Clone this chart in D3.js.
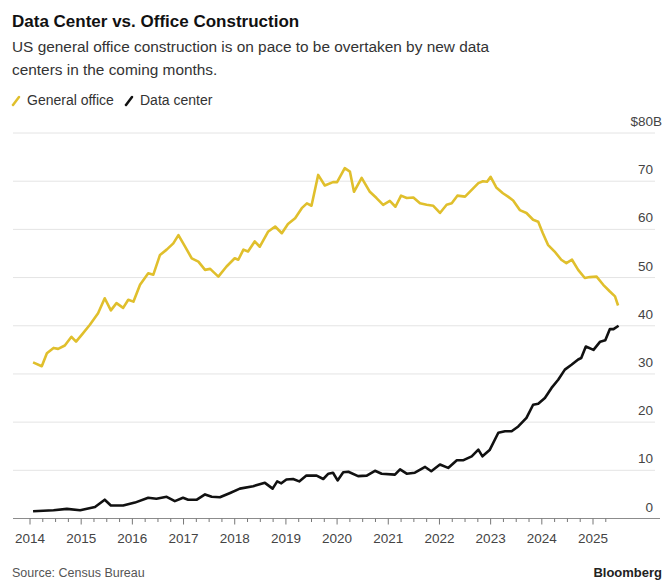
<!DOCTYPE html>
<html>
<head>
<meta charset="utf-8">
<script src="https://cdn.jsdelivr.net/npm/d3@7"></script>
<style>
  body { margin: 0; background: #fff; }
  text { font-family: "Liberation Sans", Arial, sans-serif; }
</style>
</head>
<body>
<div id="chart"></div>
<script>
// values (decimal year, $B)
var officeYears = [2014.06, 2014.23, 2014.33, 2014.46, 2014.55, 2014.68, 2014.81, 2014.9, 2015.01, 2015.17,
  2015.33, 2015.46, 2015.58, 2015.69, 2015.82, 2015.92, 2016.02, 2016.15, 2016.31, 2016.41,
  2016.54, 2016.67, 2016.8, 2016.9, 2017.03, 2017.16, 2017.29, 2017.42, 2017.52, 2017.68,
  2017.84, 2018.0, 2018.07, 2018.17, 2018.26, 2018.39, 2018.49, 2018.65, 2018.79, 2018.92,
  2019.04, 2019.18, 2019.31, 2019.41, 2019.5, 2019.63, 2019.76, 2019.92, 2020.0, 2020.15,
  2020.25, 2020.33, 2020.48, 2020.64, 2020.77, 2020.9, 2021.03, 2021.14, 2021.25, 2021.36,
  2021.49, 2021.62, 2021.75, 2021.88, 2022.01, 2022.14, 2022.24, 2022.35, 2022.5, 2022.63,
  2022.76, 2022.85, 2022.93, 2023.0, 2023.11, 2023.24, 2023.34, 2023.44, 2023.57, 2023.7,
  2023.83, 2023.93, 2024.02, 2024.12, 2024.25, 2024.38, 2024.48, 2024.59, 2024.71, 2024.84,
  2024.94, 2025.07, 2025.2, 2025.33, 2025.43, 2025.49];
var officeValues = [32.4, 31.6, 34.3, 35.4, 35.2, 35.9, 37.7, 36.7, 38.1, 40.2,
  42.6, 45.7, 43.2, 44.7, 43.7, 45.4, 45.0, 48.5, 50.9, 50.6,
  54.7, 55.8, 57.1, 58.8, 56.4, 54.0, 53.3, 51.6, 51.8, 50.2,
  52.3, 54.0, 53.7, 55.8, 55.4, 57.5, 56.4, 59.5, 60.6, 59.2,
  61.1, 62.3, 64.4, 65.4, 64.9, 71.3, 69.1, 69.8, 69.8, 72.7,
  72.0, 67.8, 70.7, 67.8, 66.5, 65.1, 65.9, 64.7, 67.0, 66.5,
  66.6, 65.4, 65.1, 64.9, 63.4, 65.1, 65.4, 67.0, 66.8, 68.2,
  69.6, 70.0, 69.9, 70.9, 68.7, 67.5, 66.8, 66.0, 64.0, 63.4,
  62.0, 61.6, 59.2, 56.8, 55.4, 53.7, 53.0, 53.7, 51.6, 49.9,
  50.1, 50.2, 48.5, 47.1, 46.1, 44.2];

var dataCenterYears = [2014.06, 2014.46, 2014.72, 2014.98, 2015.27, 2015.46, 2015.58, 2015.82, 2016.05, 2016.31,
  2016.47, 2016.67, 2016.83, 2016.99, 2017.09, 2017.26, 2017.42, 2017.55, 2017.71, 2017.91,
  2018.1, 2018.36, 2018.59, 2018.74, 2018.83, 2018.91, 2019.01, 2019.14, 2019.26, 2019.4,
  2019.6, 2019.73, 2019.83, 2019.92, 2020.01, 2020.12, 2020.22, 2020.41, 2020.58, 2020.74,
  2020.87, 2021.13, 2021.23, 2021.36, 2021.52, 2021.72, 2021.84, 2022.01, 2022.17, 2022.34,
  2022.47, 2022.63, 2022.76, 2022.84, 2022.98, 2023.15, 2023.28, 2023.41, 2023.54, 2023.7,
  2023.83, 2023.93, 2024.06, 2024.19, 2024.32, 2024.45, 2024.58, 2024.71, 2024.77, 2024.86,
  2025.01, 2025.14, 2025.24, 2025.33, 2025.4, 2025.5];
var dataCenterValues = [1.5, 1.7, 2.0, 1.7, 2.4, 3.9, 2.7, 2.7, 3.3, 4.3,
  4.1, 4.5, 3.6, 4.3, 3.9, 3.9, 5.0, 4.5, 4.4, 5.3,
  6.2, 6.7, 7.4, 6.2, 7.7, 7.3, 8.1, 8.2, 7.7, 8.9,
  8.9, 8.2, 9.3, 9.5, 7.9, 9.6, 9.7, 8.8, 8.9, 9.9,
  9.3, 9.1, 10.2, 9.3, 9.5, 10.7, 9.8, 11.2, 10.5, 12.1,
  12.1, 12.9, 14.3, 12.9, 14.2, 17.8, 18.1, 18.1, 19.1, 20.9,
  23.6, 23.8, 25.0, 27.1, 28.8, 30.9, 31.9, 33.0, 33.3, 35.7,
  35.0, 36.7, 37.0, 39.3, 39.3, 40.0];

var yTicks = [0, 10, 20, 30, 40, 50, 60, 70, 80];
var yearTicks = d3.range(2014, 2026);
var quarterTicks = d3.range(2014, 2025.3, 0.25);

var W = 666, H = 582;
var officeColor = "#e0bf2c", dcColor = "#111111";

var svg = d3.select("#chart")
  .append("svg")
    .attr("width", W)
    .attr("height", H);

// scales
var x = d3.scaleLinear().domain([2014, 2025]).range([30, 593]);
var y = d3.scaleLinear().domain([0, 80]).range([518.5, 133]);

// title + subtitle
svg.append("text")
    .attr("x", 12).attr("y", 27)
    .style("font-size", "17px").style("font-weight", "bold").attr("fill", "#111")
    .text("Data Center vs. Office Construction");
var sub = ["US general office construction is on pace to be overtaken by new data",
           "centers in the coming months."];
sub.forEach(function(s, i) {
  svg.append("text")
      .attr("x", 12).attr("y", 52 + i * 23)
      .style("font-size", "15.4px").attr("fill", "#333")
      .text(s);
});

// legend
var legend = [{name: "General office", color: officeColor, x: 12},
              {name: "Data center", color: dcColor, x: 125}];
legend.forEach(function(l) {
  svg.append("line")
      .attr("x1", l.x + 1).attr("y1", 105).attr("x2", l.x + 7).attr("y2", 97)
      .attr("stroke", l.color).attr("stroke-width", 2.5).attr("stroke-linecap", "round");
  svg.append("text")
      .attr("x", l.x + 15).attr("y", 105)
      .style("font-size", "14px").attr("fill", "#333")
      .text(l.name);
});

// gridlines
svg.append("g")
  .selectAll("line")
  .data(yTicks.slice(1))
  .enter().append("line")
    .attr("x1", 13).attr("x2", 655)
    .attr("y1", function(d) { return y(d); })
    .attr("y2", function(d) { return y(d); })
    .attr("stroke", "#e4e4e4").attr("stroke-width", 1);

// y labels, sitting above their gridline
svg.append("g")
  .selectAll("text")
  .data(yTicks)
  .enter().append("text")
    .attr("x", function(d) { return d == 80 ? 662 : 653; })
    .attr("y", function(d) { return y(d) - 7; })
    .attr("text-anchor", "end")
    .style("font-size", "13.5px").attr("fill", "#444")
    .text(function(d) { return d == 80 ? "$80B" : d; });

// x axis: baseline + quarterly ticks
svg.append("line")
    .attr("x1", 13).attr("x2", 660)
    .attr("y1", y(0)).attr("y2", y(0))
    .attr("stroke", "#8c8c8c").attr("stroke-width", 1);
svg.append("g")
  .selectAll("line")
  .data(quarterTicks)
  .enter().append("line")
    .attr("x1", function(d) { return x(d); })
    .attr("x2", function(d) { return x(d); })
    .attr("y1", y(0))
    .attr("y2", function(d) { return y(0) + (d % 1 == 0 ? 6 : 3.5); })
    .attr("stroke", "#777").attr("stroke-width", 1);
svg.append("g")
  .selectAll("text")
  .data(yearTicks)
  .enter().append("text")
    .attr("x", function(d) { return x(d); })
    .attr("y", 543)
    .attr("text-anchor", "middle")
    .style("font-size", "13.5px").attr("fill", "#444")
    .text(function(d) { return d; });

// lines
var line = d3.line()
  .x(function(d) { return x(d[0]); })
  .y(function(d) { return y(d[1]); });

svg.append("path")
    .datum(d3.zip(officeYears, officeValues))
    .attr("d", line)
    .attr("fill", "none")
    .attr("stroke", officeColor)
    .attr("stroke-width", 2.6)
    .attr("stroke-linejoin", "round");

svg.append("path")
    .datum(d3.zip(dataCenterYears, dataCenterValues))
    .attr("d", line)
    .attr("fill", "none")
    .attr("stroke", dcColor)
    .attr("stroke-width", 2.6)
    .attr("stroke-linejoin", "round");

// footer
svg.append("text")
    .attr("x", 12).attr("y", 577)
    .style("font-size", "12.5px").attr("fill", "#555")
    .text("Source: Census Bureau");
svg.append("text")
    .attr("x", 662).attr("y", 577)
    .attr("text-anchor", "end")
    .style("font-size", "13px").style("font-weight", "bold").attr("fill", "#222")
    .text("Bloomberg");
</script>
</body>
</html>
